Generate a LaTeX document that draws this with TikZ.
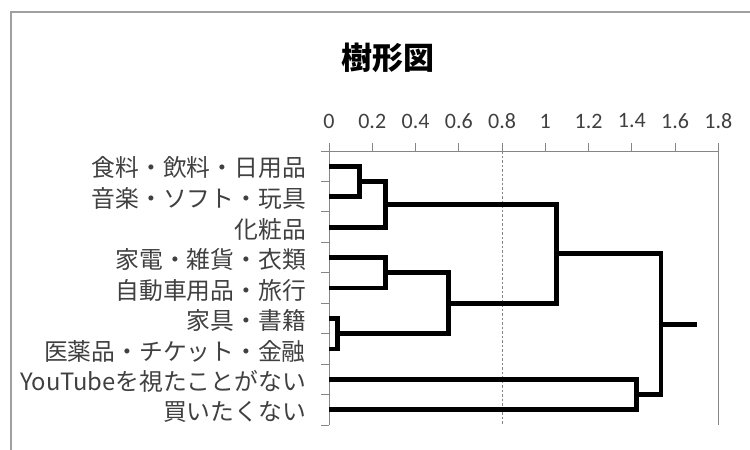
\documentclass[tikz,border=0pt]{standalone}
\usepackage{fontspec}
\setmainfont{Carlito}
\newfontfamily\jp{Noto Sans CJK JP}
\definecolor{txt}{HTML}{404040}
\definecolor{axisgray}{HTML}{868686}
\definecolor{framegray}{HTML}{A0A0A0}
\tikzset{
  tree/.style={line width=4.8pt, black, line join=miter},
  axisline/.style={line width=1pt, axisgray},
  cutline/.style={line width=0.8pt, axisgray, dash pattern=on 2.5pt off 2pt},
  framestyle/.style={line width=1.6pt, framegray},
  cat/.style={anchor=east, inner sep=0pt, text=txt, font=\jp\fontsize{23.8}{28}\selectfont},
  num/.style={anchor=center, inner sep=0pt, text=txt, font=\fontsize{22}{26}\selectfont},
  titlestyle/.style={anchor=center, inner sep=0pt, font=\jp\bfseries\fontsize{31}{36}\selectfont}
}
\begin{document}
\begin{tikzpicture}[x=1pt, y=-1pt]
\useasboundingbox (0,0) rectangle (750,450);
% frame
\draw[framestyle] (11,452) -- (11,12) -- (752,12);
% title
\node[titlestyle] (title) at (388,58) {樹形図};
% axis
\draw[axisline] (321,151) -- (718.3,151);
\draw[axisline] (329,143) -- (329,425);
\draw[axisline] (718.3,151) -- (718.3,425);
\foreach \k/\lab in {0/0,1/0.2,2/0.4,3/0.6,4/0.8,5/1,6/1.2,7/1.4,8/1.6,9/1.8}{
  \draw[axisline] ({329+43.26*\k},151) -- ({329+43.26*\k},143);
  \node[num] (t\k) at ({329+43.26*\k},121) {\lab};
}
\foreach \j in {1,...,9}{
  \draw[axisline] (321,{151+30.444*\j}) -- (329,{151+30.444*\j});
}
% cut line
\coordinate (cutTop) at (502,151);
\coordinate (cutBot) at (502,425);
\draw[cutline] (cutTop) -- (cutBot);
% leaves
\coordinate (l1) at (329,166.2);
\coordinate (l2) at (329,196.7);
\coordinate (l3) at (329,227.1);
\coordinate (l4) at (329,257.6);
\coordinate (l5) at (329,288.0);
\coordinate (l6) at (329,318.4);
\coordinate (l7) at (329,348.9);
\coordinate (l8) at (329,379.3);
\coordinate (l9) at (329,409.8);
% labels
\node[cat] (c1) at (306,168) {食料・飲料・日用品};
\node[cat] (c2) at (306,198.5) {音楽・ソフト・玩具};
\node[cat] (c3) at (306,229) {化粧品};
\node[cat] (c4) at (306,259.5) {家電・雑貨・衣類};
\node[cat] (c5) at (306,290) {自動車用品・旅行};
\node[cat] (c6) at (306,320.5) {家具・書籍};
\node[cat] (c7) at (306,351) {医薬品・チケット・金融};
\node[cat] (c8) at (306,381.5) {YouTubeを視たことがない};
\node[cat] (c9) at (306,412) {買いたくない};
% merges
\coordinate (m12) at (359.3,181.45);
\coordinate (m123) at (385.5,204.3);
\coordinate (m45) at (385.5,272.8);
\coordinate (m67) at (337.7,333.65);
\coordinate (m4567) at (448.3,303.2);
\coordinate (mA) at (556.1,253.75);
\coordinate (m89) at (636.5,394.55);
\coordinate (root) at (661,324.15);
\coordinate (stub) at (696.5,324.15);
\draw[tree] (l1) -| (m12) |- (l2);
\draw[tree] (m12) -| (m123) |- (l3);
\draw[tree] (l4) -| (m45) |- (l5);
\draw[tree] (l6) -| (m67) |- (l7);
\draw[tree] (m45) -| (m4567) |- (m67);
\draw[tree] (m123) -| (mA) |- (m4567);
\draw[tree] (l8) -| (m89) |- (l9);
\draw[tree] (mA) -| (root) |- (m89);
\draw[tree] (root) -- (stub);
\end{tikzpicture}
\end{document}
